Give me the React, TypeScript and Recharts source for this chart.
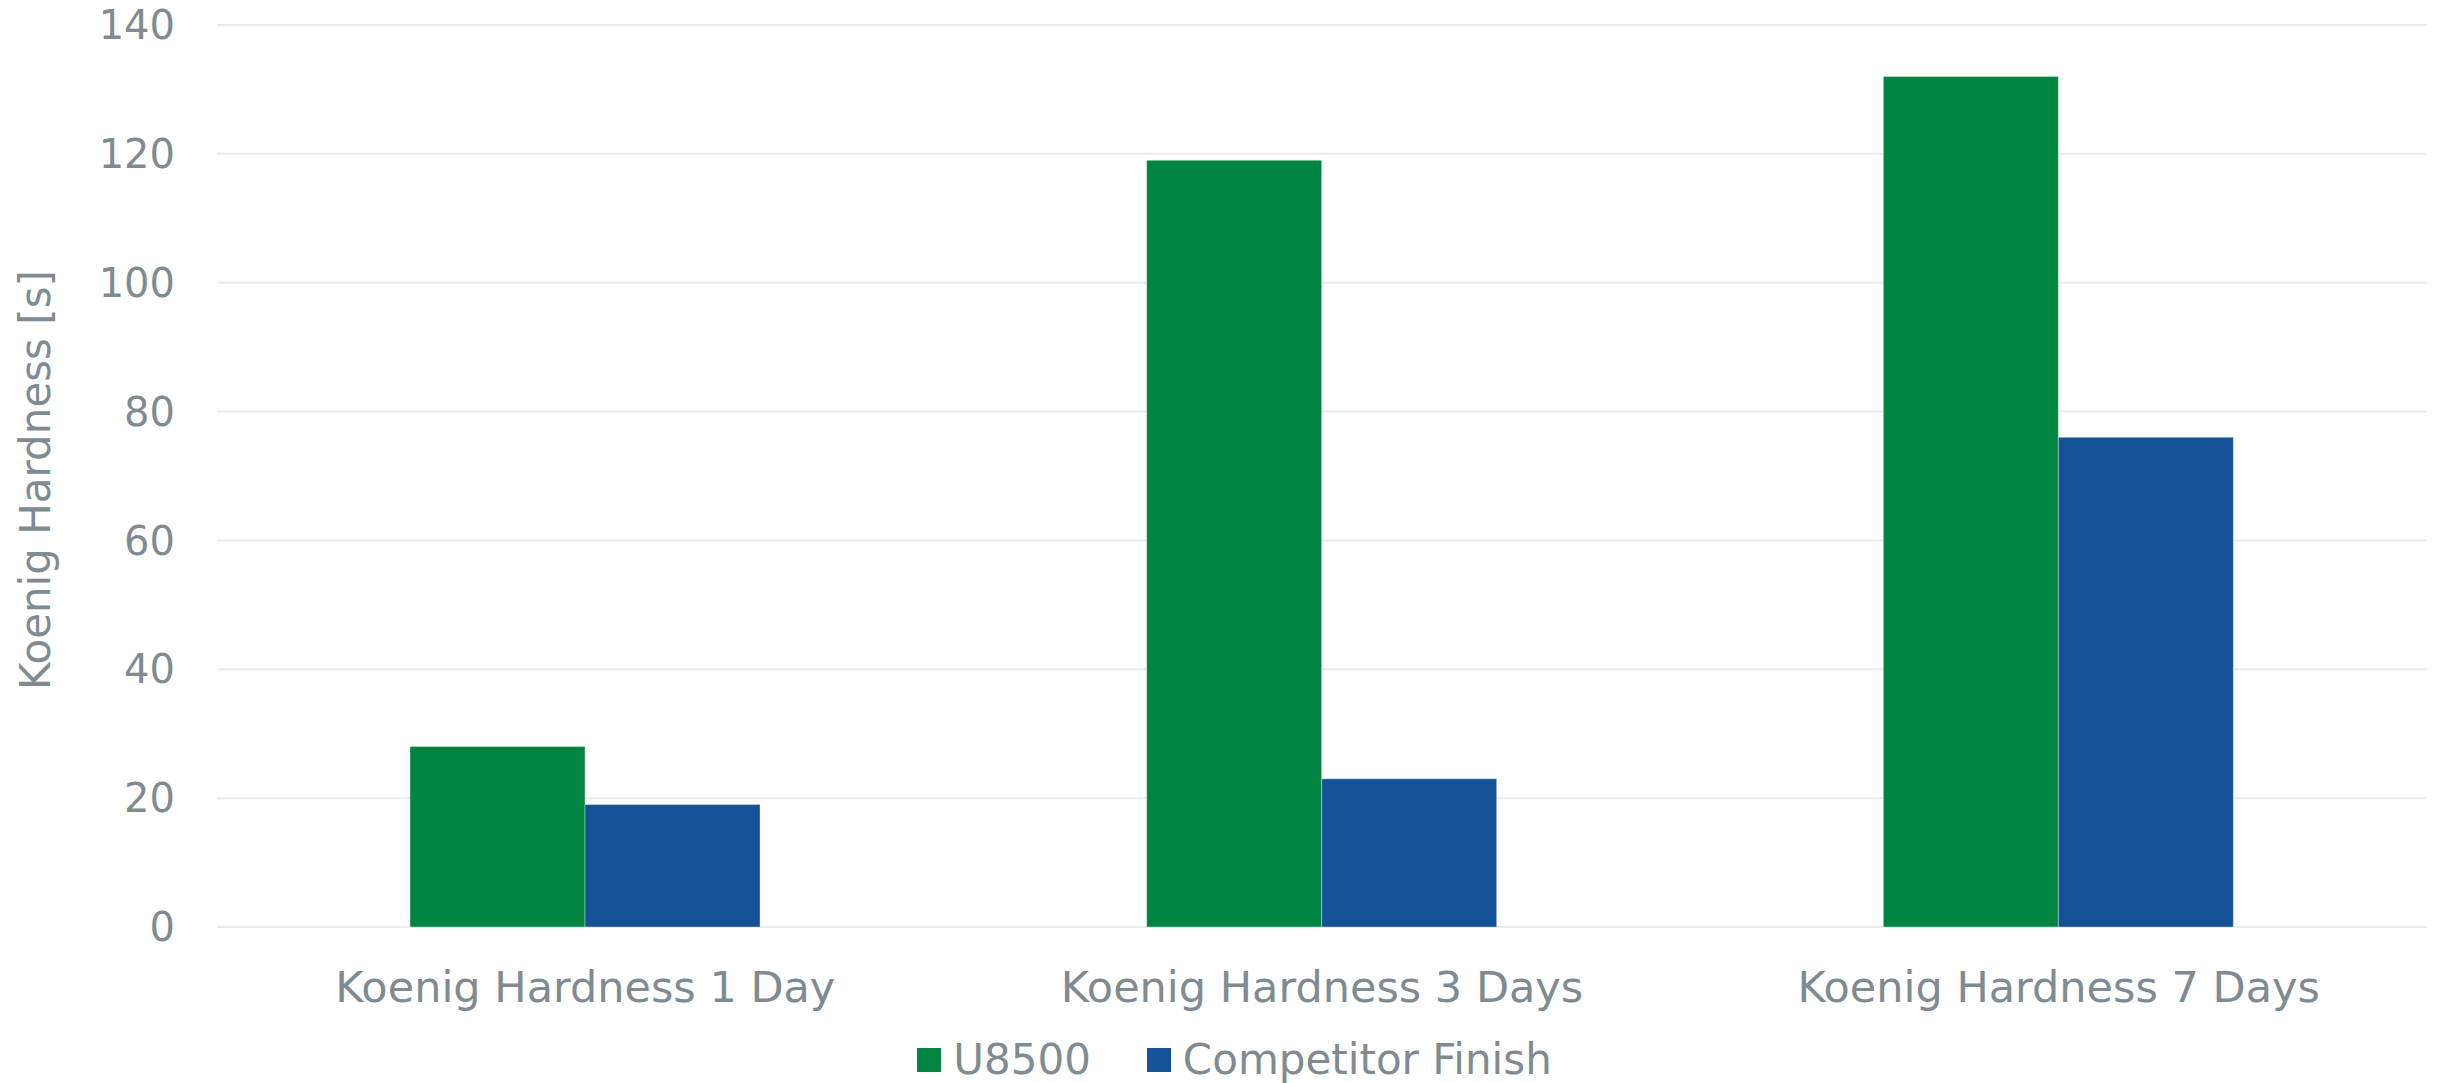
import { Bar, BarChart, CartesianGrid, Legend, XAxis, YAxis } from "recharts"

const categories = ["Koenig Hardness 1 Day", "Koenig Hardness 3 Days", "Koenig Hardness 7 Days"]
const u8500 = [28, 119, 132]
const competitor = [19, 23, 76]
const yTicks = [0, 20, 40, 60, 80, 100, 120, 140]

const GREEN = "#00843F"
const BLUE = "#155196"
const TEXT = "#808B91"
const FONT = "'DejaVu Sans', Verdana, sans-serif"

const data = categories.map((name, i) => ({
  name,
  u8500: u8500[i],
  competitor: competitor[i],
}))

const series = [
  { key: "u8500", label: "U8500", color: GREEN },
  { key: "competitor", label: "Competitor Finish", color: BLUE },
]

function LegendRow() {
  return (
    <div style={{ height: 76, position: "relative" }}>
      <div
        style={{
          position: "absolute",
          top: 28,
          left: 0,
          right: 0,
          display: "flex",
          justifyContent: "center",
          alignItems: "center",
          transform: "translateX(21px)",
        }}
      >
        {series.map((s, i) => (
          <div key={s.key} style={{ display: "flex", alignItems: "center", marginLeft: i ? 56 : 0 }}>
            <span style={{ width: 24, height: 24, background: s.color, display: "inline-block", marginRight: 12 }} />
            <span style={{ fontFamily: FONT, fontSize: 42, color: TEXT, lineHeight: "49px", whiteSpace: "nowrap" }}>
              {s.label}
            </span>
          </div>
        ))}
      </div>
    </div>
  )
}

// vertical axis title, centred on the plot area
function AxisTitle({ viewBox }: any) {
  const cy = viewBox ? viewBox.y + viewBox.height / 2 + 4 : 480
  return (
    <text
      x={50}
      y={cy}
      transform={`rotate(-90 50 ${cy})`}
      textAnchor="middle"
      fill={TEXT}
      fontFamily={FONT}
      fontSize={42}
    >
      Koenig Hardness [s]
    </text>
  )
}

export default function App() {
  return (
    <div style={{ position: "absolute", left: 0, top: 0, width: 2450, height: 1083, background: "#fff" }}>
      <BarChart
        width={2450}
        height={1083}
        data={data}
        margin={{ top: 25, right: 23, bottom: 0, left: 0 }}
        barCategoryGap="26.2%"
        barGap={0}
      >
        <CartesianGrid vertical={false} stroke="#EBEBEB" strokeWidth={2} />
        <XAxis
          dataKey="name"
          height={80}
          axisLine={false}
          tickLine={false}
          tickSize={0}
          tickMargin={44}
          tick={{ fill: TEXT, fontFamily: FONT, fontSize: 43 }}
        />
        <YAxis
          width={217}
          domain={[0, 140]}
          ticks={yTicks}
          axisLine={false}
          tickLine={false}
          tickSize={0}
          tickMargin={42}
          tick={{ fill: TEXT, fontFamily: FONT, fontSize: 40 }}
          label={<AxisTitle />}
        />
        <Legend verticalAlign="bottom" content={<LegendRow />} />
        {series.map((s) => (
          <Bar
            key={s.key}
            dataKey={s.key}
            name={s.label}
            fill={s.color}
            stroke="#ffffff"
            strokeOpacity={0.35}
            strokeWidth={1}
            isAnimationActive={false}
          />
        ))}
      </BarChart>
    </div>
  )
}
